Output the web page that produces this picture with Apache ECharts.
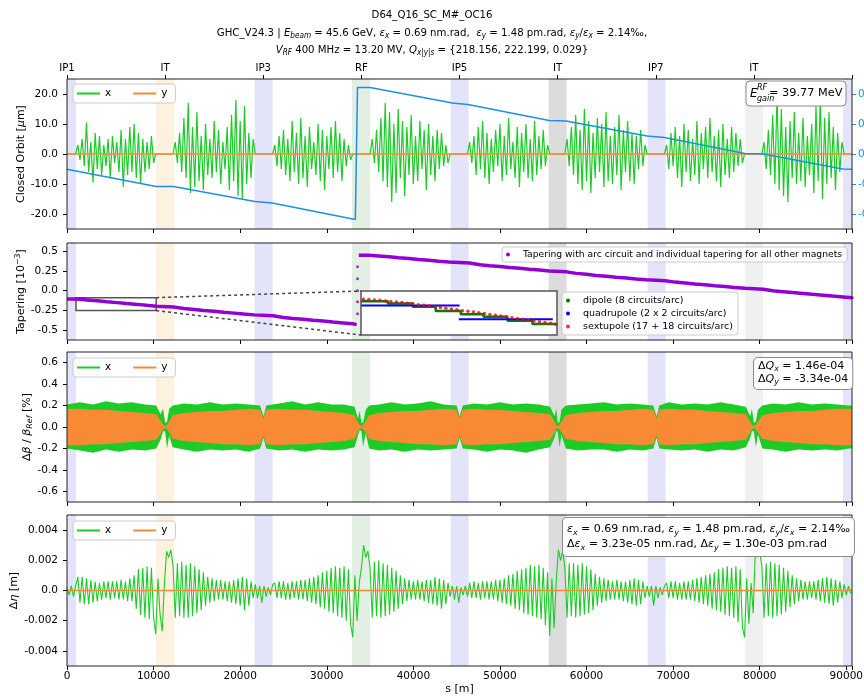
<!DOCTYPE html>
<html><head><meta charset="utf-8">
<script src="https://cdn.jsdelivr.net/npm/echarts@6/dist/echarts.min.js"></script>
<style>html,body{margin:0;padding:0;background:#fff}#c{width:864px;height:699px}</style>
</head><body><div id="c"></div><script>
// ---------------- data ----------------
const S_MAX = 90658;
const S_STEP = 250;                 // sampling step of ORBIT_X and ETA_X_E3 [m]
const X_TICK_STEP = 10000;
const TOP_TICK_STEP = 11332.25;
const TOP_LABELS = ['IP1','IT','IP3','RF','IP5','IT','IP7','IT'];

const BAND_CENTERS = [0, 11332, 22700, 33960, 45350, 56662, 68100, 79326, 90658];
const BAND_HALF = 1040;
const BAND_COLORS = ['#e3e3fa','#fdf1df','#e3e3fa','#e3efe3','#e3e3fa','#dcdcdc','#e3e3fa','#efefef','#e3e3fa'];

// closed orbit x [um], every S_STEP m
const ORBIT_X = [
 0,0,0,0,0,
 3,-2,5,-4,10.5,-6,4,-9.5,7,-5, 6,-7,3,-4,5,-8,6,-3,4,-6, 8,-11,5,-7,9,-6,10,-8,7,-10, 5,-6,4,-5,6,-3,
 0,0,0,0,0,0,0,0,0,
 4,-3,7,-6,12,-8,17,-13,9,-11, 14,-9,6,-12,10,-7,5,-8,11,-6, 8,-10,4,-5,9,-12,13,-9,18,-14, 11,-15,16,-10,7,-8,5,
 0,0,0,0,0,0,0,0,0,
 3,-4,6,-5,8,-7,5,-9,11,-6, 7,-10,12,-8,6,-11,9,-5,4,-7, 10,-9,8,-12,6,-5,9,-8,11,-6, 7,-9,5,-4,3,-2,
 0,0,0,0,0,0,0,0,0,
 5,-3,8,-6,12,-9,17,-11,14,-16, 10,-13,15,-8,11,-14,9,-7,13,-10, 6,-9,11,-5,8,-12,10,-7,6,-9, 8,-5,7,-4,3,-3,
 0,0,0,0,0,0,0,0,0,
 4,-3,6,-7,9,-5,11,-8,7,-10, 5,-6,8,-4,10,-9,6,-7,12,-5, 4,-8,9,-11,7,-6,10,-8,5,-9, 11,-7,6,-5,8,-4,3,
 0,0,0,0,0,0,0,0,
 5,-4,9,-7,13,-10,8,-12,15,-9, 11,-13,7,-8,12,-6,10,-11,14,-9, 6,-10,9,-7,13,-12,8,-6,11,-9, 7,-10,6,-5,8,-4,3,
 0,0,0,0,0,0,0,0,0,
 3,-5,7,-4,9,-8,6,-11,10,-6, 8,-9,5,-7,11,-10,7,-5,9,-8, 12,-6,6,-9,8,-11,10,-7,5,-8, 9,-6,7,-4,5,-3,
 0,0,0,0,0,0,0,0,0,
 4,-5,8,-7,13,-10,20,-12,15,-14, 9,-16,11,-8,14,-10,7,-9,12,-11, 6,-7,10,-13,16,-9,19,-15,12,-10, 14,-8,9,-12,7,-6,4,
 0,0,0,0
];
const ORBIT_Y_S = [0, S_MAX];
const ORBIT_Y = [0, 0];

// energy deviation (right axis)
const ENERGY_S = [0,10300,12300,21700,23700,33300,33550,35000,44500,46300,55700,57600,67000,69000,78300,80400,89600,90658];
const ENERGY_V = [-0.102,-0.216,-0.216,-0.316,-0.326,-0.436,0.444,0.444,0.34,0.33,0.224,0.22,0.12,0.11,0.004,0.0,-0.1,-0.102];

// tapering [1e-3]
const TAPER_S = [0,1100,2300,3500,4600,5800,6900,8100,9200,10300,12300,13500,14700,15800,17000,18100,19300,20400,21600,23800,25000,26100,27300,28400,29600,30700,31900,33000,33450,
 33500,
 33700,34900,36000,37200,38300,39500,40600,41800,42900,44100,46500,47700,48800,50000,51100,52300,53400,54600,55700,57700,58800,60000,61100,62300,63400,64600,65700,66900,69100,70200,71400,72500,73700,74800,76000,77100,78300,80400,81500,82700,83800,85000,86100,87300,88400,89600,90658];
const TAPER_V = [-0.105,-0.116,-0.127,-0.139,-0.150,-0.162,-0.172,-0.184,-0.195,-0.206,-0.225,-0.237,-0.248,-0.259,-0.271,-0.282,-0.293,-0.304,-0.316,-0.337,-0.349,-0.360,-0.371,-0.382,-0.394,-0.405,-0.416,-0.427,-0.432,
 null,
 0.446,0.437,0.427,0.415,0.405,0.393,0.382,0.371,0.360,0.349,0.326,0.314,0.303,0.292,0.281,0.270,0.259,0.248,0.237,0.218,0.207,0.192,0.181,0.170,0.159,0.148,0.137,0.126,0.108,0.097,0.085,0.075,0.063,0.053,0.041,0.030,0.019,-0.001,-0.012,-0.023,-0.034,-0.045,-0.056,-0.067,-0.078,-0.089,-0.100];
const TAPER_RF_S = [33550,33550,33550,33550,33550];
const TAPER_RF_V = [0.30,0.15,0.0,-0.14,-0.29];

// zoomed region shown in the inset
const ZOOM_S = [1040, 10300];
const ZOOM_V = [-0.25, -0.0875];
const DIP_S = [1040,2310,3490,4570,5750,6830,7960,9140,10300];
const DIP_V = [-0.125,-0.134,-0.146,-0.161,-0.173,-0.183,-0.197,-0.209,-0.209];
const QUAD_S = [1040,5700,5700,5660,10100];
const QUAD_V = [-0.141,-0.141,null,-0.192,-0.192];
const SEXT_S = [1150,1410,1670,1930,2190,2450,2710,2970,3230,3490,3750,4010,4270,4530,4790,5050,5310,5570,5830,6090,6350,6610,6870,7130,7390,7650,7910,8170,8430,8690,8950,9210,9470,9730,9990,10250];
const SEXT_V = [-0.118,-0.119,-0.121,-0.122,-0.124,-0.126,-0.128,-0.130,-0.133,-0.135,-0.138,-0.140,-0.143,-0.146,-0.148,-0.151,-0.154,-0.157,-0.160,-0.162,-0.165,-0.168,-0.171,-0.174,-0.177,-0.180,-0.183,-0.186,-0.189,-0.192,-0.195,-0.198,-0.201,-0.204,-0.207,-0.210];

// beta-beating envelopes [%]
const BETA_S = [0,1500,3000,4500,6000,7500,9000,10300,10800,11100,11332,11550,11800,12200,
 13500,15000,16500,18000,19500,21000,22300,22700,23000,
 24500,26000,27500,29000,30500,32000,33200,33600,33800,34000,34200,34500,34900,
 36000,37500,39000,40500,42000,43500,45000,45350,45700,
 47000,48500,50000,51500,53000,54500,55800,56300,56500,56662,56900,57100,57600,
 59000,60500,62000,63500,65000,66500,67700,68100,68400,
 69500,71000,72500,74000,75500,77000,78400,78900,79100,79326,79550,79800,80300,
 81500,83000,84500,86000,87500,89000,90300,90658];
const BETA_X_UP = [0.21,0.23,0.21,0.24,0.22,0.23,0.21,0.20,0.12,0.17,0.04,0.05,0.17,0.20,
 0.22,0.21,0.23,0.21,0.22,0.21,0.20,0.10,0.20,
 0.22,0.24,0.21,0.23,0.21,0.21,0.19,0.08,0.15,0.04,0.04,0.16,0.20,
 0.21,0.23,0.21,0.22,0.24,0.21,0.20,0.10,0.20,
 0.22,0.21,0.23,0.21,0.22,0.21,0.19,0.10,0.17,0.04,0.05,0.16,0.20,
 0.21,0.22,0.23,0.21,0.22,0.21,0.20,0.10,0.20,
 0.23,0.21,0.22,0.21,0.23,0.21,0.19,0.10,0.17,0.04,0.05,0.16,0.20,
 0.22,0.21,0.23,0.21,0.22,0.21,0.20,0.20];
const BETA_X_LO = [-0.20,-0.22,-0.24,-0.21,-0.23,-0.21,-0.22,-0.20,-0.12,-0.04,-0.04,-0.20,-0.08,-0.19,
 -0.21,-0.23,-0.21,-0.22,-0.21,-0.23,-0.20,-0.10,-0.20,
 -0.22,-0.21,-0.23,-0.21,-0.22,-0.21,-0.19,-0.08,-0.03,-0.04,-0.18,-0.06,-0.20,
 -0.22,-0.21,-0.23,-0.21,-0.22,-0.21,-0.20,-0.10,-0.20,
 -0.21,-0.23,-0.21,-0.22,-0.24,-0.21,-0.19,-0.10,-0.04,-0.04,-0.19,-0.07,-0.20,
 -0.22,-0.21,-0.21,-0.23,-0.21,-0.22,-0.20,-0.10,-0.20,
 -0.21,-0.22,-0.21,-0.23,-0.21,-0.22,-0.19,-0.10,-0.04,-0.04,-0.19,-0.07,-0.20,
 -0.21,-0.23,-0.21,-0.22,-0.21,-0.22,-0.20,-0.20];
const BETA_Y_UP = [0.17,0.17,0.16,0.16,0.15,0.14,0.13,0.12,0.06,0.02,0.01,0.02,0.05,0.11,
 0.13,0.14,0.15,0.15,0.16,0.17,0.16,0.08,0.16,
 0.17,0.16,0.16,0.15,0.14,0.13,0.11,0.04,0.02,0.01,0.02,0.05,0.11,
 0.13,0.14,0.15,0.15,0.16,0.17,0.16,0.08,0.16,
 0.17,0.16,0.16,0.15,0.14,0.13,0.12,0.05,0.02,0.01,0.02,0.05,0.11,
 0.13,0.14,0.15,0.15,0.16,0.17,0.16,0.08,0.16,
 0.17,0.16,0.16,0.15,0.14,0.13,0.12,0.05,0.02,0.01,0.02,0.05,0.11,
 0.13,0.14,0.15,0.15,0.16,0.17,0.17,0.17];
const BETA_Y_LO = [-0.17,-0.17,-0.16,-0.16,-0.15,-0.14,-0.13,-0.12,-0.06,-0.02,-0.01,-0.02,-0.05,-0.11,
 -0.13,-0.14,-0.15,-0.16,-0.16,-0.17,-0.16,-0.08,-0.16,
 -0.17,-0.16,-0.16,-0.15,-0.14,-0.13,-0.11,-0.04,-0.02,-0.01,-0.02,-0.05,-0.11,
 -0.13,-0.14,-0.15,-0.16,-0.16,-0.17,-0.16,-0.08,-0.16,
 -0.17,-0.16,-0.16,-0.15,-0.14,-0.13,-0.12,-0.05,-0.02,-0.01,-0.02,-0.05,-0.11,
 -0.13,-0.14,-0.15,-0.16,-0.16,-0.17,-0.16,-0.08,-0.16,
 -0.17,-0.16,-0.16,-0.15,-0.14,-0.13,-0.12,-0.05,-0.02,-0.01,-0.02,-0.05,-0.11,
 -0.13,-0.14,-0.15,-0.16,-0.16,-0.17,-0.17,-0.17];

// dispersion beating x [1e-3 m], every S_STEP m
const ETA_X_E3 = [
 0.2,-0.3,0.3,-0.4,0.3,
 0.9,-0.8,0.9,-0.9,0.8,-0.9,0.7,-0.8,0.6,-0.7, 0.5,-0.6,0.6,-0.5,0.6,-0.6,0.6,-0.5,0.6,-0.6, 0.7,-0.6,0.6,-0.7,0.8,-0.7,1.0,-1.2,1.4,-1.6, 1.5,-1.8,1.6,-1.9,1.5,-1.8,
 -2.9,0.8,-1.6,-2.7,0.5,2.6,2.2,2.7,1.6,
 -1.8,1.8,-1.7,1.9,-1.8,1.7,-1.8,1.8,-1.7,1.6, -1.5,1.4,-1.3,1.2,-1.0,0.9,-0.8,0.8,-0.7,0.7, -0.6,0.7,-0.6,0.6,-0.7,0.6,-0.8,0.7,-0.9,0.8, -1.0,0.9,-1.3,0.8,-1.0,0.6,-0.5,
 0.4,-0.5,0.3,-0.8,0.3,-0.4,0.2,-0.3,0.4,
 0.5,-0.5,0.6,-0.5,0.6,-0.6,0.5,-0.6,0.6,-0.5, 0.6,-0.6,0.7,-0.6,0.7,-0.7,0.8,-0.8,0.9,-0.9, 1.0,-1.1,1.2,-1.2,1.3,-1.4,1.5,-1.5,1.6,-1.7, 1.5,-1.8,1.6,-2.0,1.4,-2.2,
 -3.1,1.0,-2.0,0.5,1.5,3.0,2.2,2.6,1.5,
 -1.8,1.9,-1.7,2.0,-1.8,1.8,-1.7,1.7,-1.6,1.5, -1.4,1.3,-1.2,1.0,-0.9,0.8,-0.7,0.7,-0.6,0.6, -0.6,0.7,-0.6,0.6,-0.7,0.7,-0.8,0.7,-0.9,0.9, -1.0,0.8,-1.2,0.7,-0.9,0.5,
 -0.4,0.3,-0.6,0.3,-0.8,0.2,-0.3,0.3,-0.4,
 0.5,-0.5,0.6,-0.5,0.5,-0.6,0.6,-0.5,0.6,-0.6, 0.6,-0.6,0.7,-0.7,0.7,-0.8,0.8,-0.9,1.0,-1.0, 1.1,-1.2,1.3,-1.3,1.4,-1.5,1.5,-1.6,1.7,-1.7, 1.6,-1.8,1.7,-1.9,1.5,-2.3,1.2,
 -3.0,0.8,-2.5,0.6,2.7,2.0,2.6,1.5,
 -1.8,1.8,-1.7,1.8,-1.8,1.7,-1.7,1.8,-1.6,1.6, -1.5,1.4,-1.3,1.1,-1.0,0.9,-0.8,0.8,-0.7,0.7, -0.6,0.6,-0.6,0.7,-0.6,0.6,-0.7,0.6,-0.8,0.7, -0.9,0.8,-1.0,0.7,-0.9,0.6,-0.5,
 0.3,-0.4,0.3,-1.0,0.3,-0.5,0.2,-0.3,0.3,
 0.5,-0.5,0.6,-0.5,0.6,-0.6,0.5,-0.6,0.6,-0.6, 0.6,-0.6,0.7,-0.7,0.8,-0.8,0.9,-0.9,1.0,-1.0, 1.1,-1.2,1.2,-1.3,1.4,-1.4,1.5,-1.6,1.6,-1.7, 1.5,-1.8,1.6,-2.1,1.4,-2.4,
 -3.1,0.8,-2.2,0.5,-1.5,2.8,2.2,2.6,1.6,
 -1.8,1.8,-1.7,1.9,-1.8,1.8,-1.7,1.7,-1.6,1.5, -1.4,1.3,-1.1,1.0,-0.9,0.8,-0.7,0.7,-0.6,0.6, -0.6,0.6,-0.5,0.6,-0.6,0.7,-0.7,0.8,-0.8,0.9, -0.9,0.8,-1.0,0.7,-0.8,0.6,-0.5,
 0.4,-0.3,0.3,-0.2
];
const ETA_Y_S = [0, S_MAX];
const ETA_Y = [0, 0];

const Y0_TICKS = [-20,-10,0,10,20];
const Y0R_TICKS = [-0.4,-0.2,0,0.2,0.4];
const Y1_TICKS = [-0.5,-0.25,0,0.25,0.5];
const Y2_TICKS = [-0.6,-0.4,-0.2,0,0.2,0.4,0.6];
const Y3_TICKS = [-0.004,-0.002,0,0.002,0.004];

// ---------------- style ----------------
const F = "'DejaVu Sans', sans-serif";
const FC = "'DejaVu Sans Condensed', 'Liberation Sans Narrow', 'DejaVu Sans', sans-serif";
const GREEN = '#1ccc26', ORANGE = '#f98a35', BLUE = '#1f8fe6', PURPLE = '#9400d3';
const TAPER_NAME = 'Tapering with arc circuit and individual tapering for all other magnets';
const DIP_NAME = 'dipole (8 circuits/arc)', QUAD_NAME = 'quadrupole (2 x 2 circuits/arc)', SEXT_NAME = 'sextupole (17 + 18 circuits/arc)';

function rich(fs, ff) {
  ff = ff || F;
  return {
    i: {fontStyle: 'italic', fontSize: fs, fontFamily: ff, color: '#000'},
    sub: {fontStyle: 'italic', fontSize: fs * 0.72, fontFamily: ff, color: '#000', verticalAlign: 'bottom', lineHeight: fs * 0.8},
    sup: {fontSize: fs * 0.72, fontFamily: ff, color: '#000', verticalAlign: 'top', lineHeight: fs * 0.8}
  };
}
const pairs = (xs, ys) => xs.map((x, i) => [x, ys[i]]);

const chart = echarts.init(document.getElementById('c'), null, {renderer: 'canvas'});

const bandData = BAND_CENTERS.map((c, i) => [
  {xAxis: Math.max(0, c - BAND_HALF), itemStyle: {color: BAND_COLORS[i]}},
  {xAxis: Math.min(S_MAX, c + BAND_HALF)}
]);
function bandSeries(xi, yi) {
  return {type: 'line', xAxisIndex: xi, yAxisIndex: yi, data: [], silent: true, z: 1,
    markArea: {silent: true, data: bandData}};
}
const gridBase = {left: 67, right: 12, show: true, borderColor: '#222', borderWidth: 1, backgroundColor: 'transparent', z: 10, outerBoundsMode: 'none', containLabel: false};
const tick = {show: true, length: 4, lineStyle: {color: '#000', width: 1}};
function xAx(gi, labels, extra) {
  return Object.assign({
    gridIndex: gi, type: 'value', min: 0, max: S_MAX, interval: X_TICK_STEP,
    axisLine: {show: false, onZero: false}, axisTick: tick, splitLine: {show: false},
    axisLabel: {show: labels, margin: 5, color: '#000', fontSize: 10.5, fontFamily: F,
      formatter: v => (v % X_TICK_STEP === 0 ? String(v) : '')}
  }, extra || {});
}
function yAx(gi, min, max, ticks, fmt, name, gap, extra) {
  return Object.assign({
    gridIndex: gi, type: 'value', min: min, max: max,
    axisLine: {show: false, onZero: false}, splitLine: {show: false},
    axisTick: Object.assign({customValues: ticks}, tick),
    axisLabel: {customValues: ticks, formatter: fmt, margin: 9, color: '#000', fontSize: 10.5, fontFamily: F},
    name: name, nameLocation: 'middle', nameGap: gap, nameMoveOverlap: false,
    nameTextStyle: {fontSize: 11, fontFamily: F, color: '#000', lineHeight: 14, rich: rich(11)}
  }, extra || {});
}
function lg(top, extra) {
  return Object.assign({
    left: 73, top: top, orient: 'horizontal', data: [{name: 'x', icon: 'rect'}, {name: 'y', icon: 'rect'}],
    itemWidth: 23, itemHeight: 2, itemGap: 22, padding: [4, 8, 4, 4],
    backgroundColor: 'rgba(255,255,255,0.85)', borderColor: '#cccccc', borderWidth: 1, borderRadius: 3,
    textStyle: {fontSize: 10.5, fontFamily: F, color: '#000'}
  }, extra || {});
}
function envPoly(up, lo, color) {
  return function (params, api) {
    if (params.dataIndex !== 0) return null;
    const pts = [];
    for (let i = 0; i < BETA_S.length; i++) pts.push(api.coord([BETA_S[i], up[i]]));
    for (let i = BETA_S.length - 1; i >= 0; i--) pts.push(api.coord([BETA_S[i], lo[i]]));
    return {type: 'polygon', shape: {points: pts}, style: {fill: color}};
  };
}

const fmt1 = v => v.toFixed(1);
const TITLE_FS = 11.3;
const option = {
  animation: false,
  backgroundColor: '#fff',
  title: [
    {text: 'D64_Q16_SC_M#_OC16', left: 'center', top: 8, padding: 0,
      textStyle: {fontSize: TITLE_FS, fontWeight: 'normal', fontFamily: FC, color: '#000', lineHeight: 14}},
    {text: 'GHC_V24.3 | {i|E}{sub|beam} = 45.6 GeV, {i|ε}{sub|x} = 0.69 nm.rad,  {i|ε}{sub|y} = 1.48 pm.rad, {i|ε}{sub|y}/{i|ε}{sub|x} = 2.14‰,',
      left: 'center', top: 26, padding: 0,
      textStyle: {fontSize: TITLE_FS, fontWeight: 'normal', fontFamily: FC, color: '#000', lineHeight: 14, rich: rich(TITLE_FS, FC)}},
    {text: '{i|V}{sub|RF} 400 MHz = 13.20 MV, {i|Q}{sub|x|y|s} = {218.156, 222.199, 0.029}',
      left: 'center', top: 43, padding: 0,
      textStyle: {fontSize: TITLE_FS, fontWeight: 'normal', fontFamily: FC, color: '#000', lineHeight: 14, rich: rich(TITLE_FS, FC)}}
  ],
  grid: [
    Object.assign({top: 79, height: 150}, gridBase),
    Object.assign({top: 243, height: 97}, gridBase),
    Object.assign({top: 352, height: 150}, gridBase),
    Object.assign({top: 515, height: 151}, gridBase),
    {left: 361, top: 291, width: 196, height: 44, show: true, borderColor: '#555', borderWidth: 1.5, backgroundColor: 'transparent', z: 10, outerBoundsMode: 'none', containLabel: false}
  ],
  xAxis: [
    xAx(0, false),
    {gridIndex: 0, type: 'value', position: 'top', min: 0, max: S_MAX, interval: TOP_TICK_STEP,
      axisLine: {show: false, onZero: false}, axisTick: tick, splitLine: {show: false},
      axisLabel: {margin: 5, color: '#000', fontSize: 11.3, fontFamily: FC,
        formatter: v => TOP_LABELS[Math.round(v / TOP_TICK_STEP)] || ''}},
    xAx(1, false),
    xAx(2, false),
    xAx(3, true, {name: 's [m]', nameLocation: 'middle', nameGap: 18, nameMoveOverlap: false,
      nameTextStyle: {fontSize: 11, fontFamily: F, color: '#000'}}),
    {gridIndex: 4, type: 'value', min: ZOOM_S[0], max: ZOOM_S[1], show: false, axisLine: {onZero: false}}
  ],
  yAxis: [
    yAx(0, -25, 25, Y0_TICKS, fmt1, 'Closed Orbit [{i|μ}m]', 39),
    {gridIndex: 0, type: 'value', position: 'right', min: -0.5, max: 0.5,
      axisLine: {show: false, onZero: false}, splitLine: {show: false},
      axisTick: {show: true, length: 4, customValues: Y0R_TICKS, lineStyle: {color: BLUE}},
      axisLabel: {customValues: Y0R_TICKS, color: BLUE, fontSize: 10.5, fontFamily: F, margin: 6, formatter: fmt1}},
    yAx(1, -0.62, 0.6, Y1_TICKS, v => (v === 0 ? '0.0' : String(v)), 'Tapering [10{sup|−3}]', 39),
    yAx(2, -0.7, 0.7, Y2_TICKS, fmt1, 'Δ{i|β} / {i|β}{sub|Ref} [%]', 33),
    yAx(3, -0.005, 0.005, Y3_TICKS, v => (v === 0 ? '0.0' : v.toFixed(3)), 'Δ{i|η} [m]', 46),
    {gridIndex: 4, type: 'value', min: ZOOM_V[0], max: ZOOM_V[1], show: false, axisLine: {onZero: false}}
  ],
  legend: [
    lg(84),
    lg(358),
    lg(521),
    {left: 502, top: 247, data: [{name: TAPER_NAME, icon: 'circle'}], itemWidth: 20, itemHeight: 4,
      padding: [3, 5, 3, 4], backgroundColor: 'rgba(255,255,255,0.85)', borderColor: '#cccccc', borderWidth: 1, borderRadius: 3,
      textStyle: {fontSize: 9.2, fontFamily: F, color: '#000'}},
    {left: 562, top: 292, orient: 'vertical', itemGap: 2,
      data: [{name: DIP_NAME, icon: 'circle'}, {name: QUAD_NAME, icon: 'circle'}, {name: SEXT_NAME, icon: 'circle'}],
      itemWidth: 20, itemHeight: 4, padding: [3, 5, 3, 4],
      backgroundColor: 'rgba(255,255,255,0.85)', borderColor: '#cccccc', borderWidth: 1, borderRadius: 3,
      textStyle: {fontSize: 9.5, fontFamily: F, color: '#000', lineHeight: 11}}
  ],
  series: [
    // panel 1
    bandSeries(0, 0),
    {type: 'line', name: 'x', xAxisIndex: 0, yAxisIndex: 0, showSymbol: false, symbol: 'none', z: 2,
      lineStyle: {color: GREEN, width: 1.2}, itemStyle: {color: GREEN},
      data: ORBIT_X.map((v, i) => [i * S_STEP, v])},
    {type: 'line', name: 'y', xAxisIndex: 0, yAxisIndex: 0, symbol: 'none', z: 3,
      lineStyle: {color: ORANGE, width: 1.5}, itemStyle: {color: ORANGE}, data: pairs(ORBIT_Y_S, ORBIT_Y)},
    {type: 'line', name: 'energy', xAxisIndex: 0, yAxisIndex: 1, symbol: 'none', z: 4,
      lineStyle: {color: BLUE, width: 1.5}, itemStyle: {color: BLUE}, data: pairs(ENERGY_S, ENERGY_V)},
    // panel 2
    bandSeries(2, 2),
    {type: 'line', name: TAPER_NAME, xAxisIndex: 2, yAxisIndex: 2, symbol: 'none', step: 'end', z: 3,
      lineStyle: {color: PURPLE, width: 3.5}, itemStyle: {color: PURPLE}, data: pairs(TAPER_S, TAPER_V)},
    {type: 'scatter', name: TAPER_NAME, xAxisIndex: 2, yAxisIndex: 2, symbolSize: 3, z: 3,
      itemStyle: {color: PURPLE}, data: pairs(TAPER_RF_S, TAPER_RF_V)},
    {type: 'line', name: 'zoombox', xAxisIndex: 2, yAxisIndex: 2, data: [], z: 5,
      markArea: {silent: true, itemStyle: {color: 'rgba(0,0,0,0)', borderColor: '#555', borderWidth: 1.5},
        data: [[{coord: [ZOOM_S[0], ZOOM_V[1]]}, {coord: [ZOOM_S[1], ZOOM_V[0]]}]]}},
    // inset
    {type: 'line', name: 'insetbg', xAxisIndex: 5, yAxisIndex: 5, data: [], z: 6,
      markArea: {silent: true, itemStyle: {color: '#fff'},
        data: [[{coord: [ZOOM_S[0], ZOOM_V[1]]}, {coord: [ZOOM_S[1], ZOOM_V[0]]}]]}},
    {type: 'line', name: DIP_NAME, xAxisIndex: 5, yAxisIndex: 5, symbol: 'none', step: 'end', z: 7,
      lineStyle: {color: '#008000', width: 2.5}, itemStyle: {color: '#008000'}, data: pairs(DIP_S, DIP_V)},
    {type: 'line', name: QUAD_NAME, xAxisIndex: 5, yAxisIndex: 5, symbol: 'none', z: 7, connectNulls: false,
      lineStyle: {color: '#0000ff', width: 2}, itemStyle: {color: '#0000ff'}, data: pairs(QUAD_S, QUAD_V)},
    {type: 'scatter', name: SEXT_NAME, xAxisIndex: 5, yAxisIndex: 5, symbolSize: 3.5, z: 8,
      itemStyle: {color: '#ff0000'}, data: pairs(SEXT_S, SEXT_V)},
    // panel 3
    bandSeries(3, 3),
    {type: 'custom', name: 'x', xAxisIndex: 3, yAxisIndex: 3, data: [[0, 0]], z: 2, silent: true,
      itemStyle: {color: GREEN}, renderItem: envPoly(BETA_X_UP, BETA_X_LO, GREEN)},
    {type: 'custom', name: 'y', xAxisIndex: 3, yAxisIndex: 3, data: [[0, 0]], z: 3, silent: true,
      itemStyle: {color: ORANGE}, renderItem: envPoly(BETA_Y_UP, BETA_Y_LO, ORANGE)},
    // panel 4
    bandSeries(4, 4),
    {type: 'line', name: 'x', xAxisIndex: 4, yAxisIndex: 4, symbol: 'none', z: 2,
      lineStyle: {color: GREEN, width: 1.1}, itemStyle: {color: GREEN},
      data: ETA_X_E3.map((v, i) => [i * S_STEP, v * 1e-3])},
    {type: 'line', name: 'y', xAxisIndex: 4, yAxisIndex: 4, symbol: 'none', z: 3,
      lineStyle: {color: ORANGE, width: 1.5}, itemStyle: {color: ORANGE}, data: pairs(ETA_Y_S, ETA_Y)}
  ]
};
chart.setOption(option);

// annotation boxes and inset connectors
const pA = chart.convertToPixel({xAxisIndex: 2, yAxisIndex: 2}, [ZOOM_S[1], ZOOM_V[1]]);
const pB = chart.convertToPixel({xAxisIndex: 2, yAxisIndex: 2}, [ZOOM_S[1], ZOOM_V[0]]);
const qA = chart.convertToPixel({xAxisIndex: 5, yAxisIndex: 5}, [ZOOM_S[0], ZOOM_V[1]]);
const qB = chart.convertToPixel({xAxisIndex: 5, yAxisIndex: 5}, [ZOOM_S[0], ZOOM_V[0]]);
const dash = {stroke: '#444', lineWidth: 1.5, lineDash: [3, 3]};
const boxStyle = {backgroundColor: '#fff', borderColor: '#8a8a8a', borderWidth: 1, borderRadius: 4};
const txt = (id, x, y, s, fs, italic) => ({type: 'text', id: id, z: 30, x: x, y: y,
  style: {text: s, fontSize: fs, fontStyle: italic ? 'italic' : 'normal', fontFamily: F, fill: '#000', verticalAlign: 'middle'}});
chart.setOption({
  graphic: [
    {type: 'line', id: 'c1', z: 20, shape: {x1: pA[0], y1: pA[1], x2: qA[0], y2: qA[1]}, style: dash},
    {type: 'line', id: 'c2', z: 20, shape: {x1: pB[0], y1: pB[1], x2: qB[0], y2: qB[1]}, style: dash},
    {type: 'rect', id: 'egbox', z: 25, shape: {x: 746, y: 81, width: 100, height: 25, r: 4}, style: {fill: '#fff', stroke: '#8a8a8a', lineWidth: 1}},
    txt('eg1', 750, 93.5, 'E', 12, true),
    txt('eg2', 757, 88, 'RF', 8, true),
    txt('eg3', 757, 98.5, 'gain', 8, true),
    txt('eg4', 769, 93.5, '= 39.77 MeV', 11.3, false),
    {type: 'text', id: 'dq', z: 20, x: 754, y: 358, style: Object.assign({
      text: 'Δ{i|Q}{sub|x} = 1.46e-04\nΔ{i|Q}{sub|y} = -3.34e-04',
      rich: rich(11), fontSize: 11, fontFamily: F, fill: '#000', lineHeight: 13, padding: [2, 4, 3, 4]}, boxStyle)},
    {type: 'text', id: 'em', z: 20, x: 563, y: 518, style: Object.assign({
      text: '{i|ε}{sub|x} = 0.69 nm.rad, {i|ε}{sub|y} = 1.48 pm.rad, {i|ε}{sub|y}/{i|ε}{sub|x} = 2.14‰\nΔ{i|ε}{sub|x} = 3.23e-05 nm.rad, Δ{i|ε}{sub|y} = 1.30e-03 pm.rad',
      rich: rich(11), fontSize: 11, fontFamily: F, fill: '#000', lineHeight: 15, padding: [4, 4, 4, 4]}, boxStyle)}
  ]
});
</script></body></html>
